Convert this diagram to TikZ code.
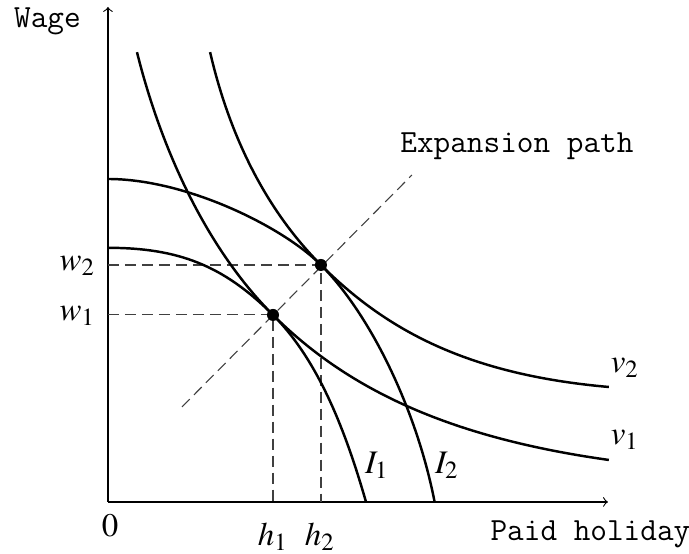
\documentclass[tikz,border=0pt]{standalone}
\usepackage{mathptmx}
\usepackage[no-math]{fontspec}
\setmainfont{Liberation Serif}
\tikzset{
  curve/.style={line width=0.9pt},
  guide/.style={black!75, dash pattern=on 4pt off 2.2pt},
  mlabel/.style={font=\large},
  tlabel/.style={font=\fontsize{11.8}{14}\selectfont\ttfamily}
}
\begin{document}
\begin{tikzpicture}
  \useasboundingbox (-1.385,-0.667) rectangle (7.453,6.439);
  % Coordinates
  \coordinate (O) at (0.00, 0.00);
  \coordinate (X) at (6.414, 0.00);
  \coordinate (Y) at (0.00, 6.35);
  \coordinate (P1) at (2.117, 2.399);
  \coordinate (P2) at (2.732, 3.040);
  \coordinate (W1) at (0.00, 2.399);
  \coordinate (W2) at (0.00, 3.040);
  \coordinate (H1) at (2.117, 0.00);
  \coordinate (H2) at (2.732, 0.00);
  \coordinate (E1) at (0.949, 1.219);
  \coordinate (E2) at (3.899, 4.194);

  % Axes
  \draw[->] (O) -- (X);
  \draw[->] (O) -- (Y);

  % Guides
  \draw[guide] (W1) -- (P1) -- (H1);
  \draw[guide] (W2) -- (P2) -- (H2);
  \draw[guide] (E1) -- (E2);

  % Curves
  \draw[curve] (0.00, 3.26) .. controls (0.90, 3.26) and (1.48, 3.036) .. (P1)
    .. controls (3.107, 1.409) and (4.444, 0.817) .. (6.425, 0.539);
  \draw[curve] (0.00, 4.143) .. controls (1.00, 4.143) and (2.237, 3.535) .. (P2)
    .. controls (3.58, 2.192) and (4.632, 1.632) .. (6.425, 1.475);
  \draw[curve] (0.372, 5.77) .. controls (0.687, 4.509) and (1.269, 3.247) .. (P1)
    .. controls (2.683, 1.833) and (3.034, 0.961) .. (3.31, 0.00);
  \draw[curve] (1.31, 5.77) .. controls (1.558, 4.699) and (2.025, 3.747) .. (P2)
    .. controls (3.368, 2.404) and (3.961, 1.178) .. (4.19, 0.00);
  \fill[black] (P1) circle (2.2pt);
  \fill[black] (P2) circle (2.2pt);

  % Labels
  \node[tlabel] (wage) at (-0.776, 6.17) {Wage};
  \node[tlabel] (holiday) at (6.189, -0.41) {Paid holiday};
  \node[tlabel] (path) at (5.246, 4.566) {Expansion path};
  \node[mlabel] (zero) at (0.026, -0.308) {$0$};
  \node[mlabel] (w1) at (-0.391, 2.386) {$w_1$};
  \node[mlabel] (w2) at (-0.391, 3.027) {$w_2$};
  \node[mlabel] (h1) at (2.117, -0.449) {$h_1$};
  \node[mlabel] (h2) at (2.72, -0.449) {$h_2$};
  \node[mlabel] (v1) at (6.632, 0.795) {$v_1$};
  \node[mlabel] (v2) at (6.632, 1.72) {$v_2$};
  \node[mlabel] (I1) at (3.45, 0.475) {$I_1$};
  \node[mlabel] (I2) at (4.348, 0.475) {$I_2$};
\end{tikzpicture}
\end{document}
